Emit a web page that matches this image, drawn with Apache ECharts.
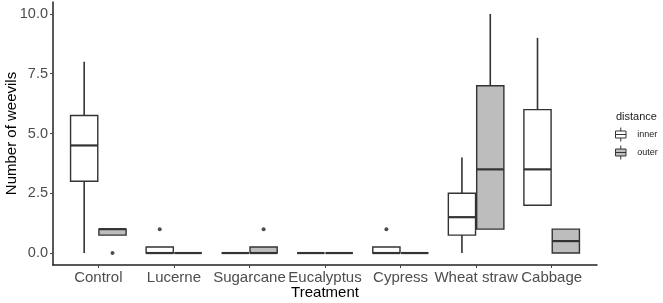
<!DOCTYPE html>
<html>
<head>
<meta charset="utf-8">
<script src="https://cdn.jsdelivr.net/npm/echarts@6/dist/echarts.min.js"></script>
<style>
html, body { margin: 0; padding: 0; background: #fff; }
#chart { width: 663px; height: 303px; }
</style>
</head>
<body>
<div id="chart"></div>
<script>
// treatments on the x axis
var treatments = ['Control', 'Lucerne', 'Sugarcane', 'Eucalyptus', 'Cypress', 'Wheat straw', 'Cabbage'];
var yTicks = [0, 2.5, 5, 7.5, 10];
// [min, Q1, median, Q3, max] per treatment
var innerBoxes = [
    [0, 3, 4.5, 5.75, 8],
    [0, 0, 0, 0.25, 0.25],
    [0, 0, 0, 0, 0],
    [0, 0, 0, 0, 0],
    [0, 0, 0, 0.25, 0.25],
    [0, 0.75, 1.5, 2.5, 4],
    [2, 2, 3.5, 6, 9]
];
var outerBoxes = [
    [0.75, 0.75, 1, 1, 1],
    [0, 0, 0, 0, 0],
    [0, 0, 0, 0.25, 0.25],
    [0, 0, 0, 0, 0],
    [0, 0, 0, 0, 0],
    [1, 1, 3.5, 7, 10],
    [0, 0, 0.5, 1, 1]
];
// outliers: [treatment index, value]
var innerOutliers = [[1, 1], [4, 1]];
var outerOutliers = [[0, 0], [2, 1]];

var dodge = 0.1875;
var boxW = 0.36;

function boxData(boxes, shift) {
    return boxes.map(function (b, i) { return [i + 1 + shift].concat(b); });
}
function outlierData(list, shift) {
    return list.map(function (o) { return [o[0] + 1 + shift, o[1]]; });
}

function renderBox(params, api) {
    var x = api.value(0);
    var pMin = api.coord([x, api.value(1)]);
    var pQ1 = api.coord([x, api.value(2)]);
    var pMed = api.coord([x, api.value(3)]);
    var pQ3 = api.coord([x, api.value(4)]);
    var pMax = api.coord([x, api.value(5)]);
    var half = api.size([boxW, 0])[0] / 2;
    var cx = pMed[0];
    var fill = api.visual('color');
    var line = '#333333';
    return {
        type: 'group',
        children: [
            { type: 'line', shape: { x1: cx, y1: pQ3[1], x2: cx, y2: pMax[1] }, style: { stroke: line, lineWidth: 1.6 } },
            { type: 'line', shape: { x1: cx, y1: pQ1[1], x2: cx, y2: pMin[1] }, style: { stroke: line, lineWidth: 1.6 } },
            { type: 'rect', shape: { x: cx - half, y: pQ3[1], width: half * 2, height: pQ1[1] - pQ3[1] },
              style: { fill: fill, stroke: line, lineWidth: 1.4 } },
            { type: 'line', shape: { x1: cx - half, y1: pMed[1], x2: cx + half, y2: pMed[1] }, style: { stroke: line, lineWidth: 2.2 } }
        ]
    };
}

var boxIcon = 'path://M0,4 H12 V12 H0 Z M0,8 H12 M6,0 V4 M6,12 V16';

var chart = echarts.init(document.getElementById('chart'));
var option = {
    animation: false,
    backgroundColor: '#fff',
    textStyle: { fontFamily: 'Liberation Sans, Arial, sans-serif' },
    title: {
        text: 'distance',
        left: 611,
        top: 106,
        textStyle: { fontSize: 11, fontWeight: 'normal', color: '#222' }
    },
    legend: {
        orient: 'vertical',
        left: 615,
        top: 127,
        padding: 0,
        itemWidth: 13,
        itemHeight: 14,
        itemGap: 3,
        textStyle: { fontSize: 9, color: '#222', padding: [0, 0, 0, 5] },
        data: [
            { name: 'inner', icon: boxIcon, itemStyle: { color: '#ffffff', borderColor: '#333', borderWidth: 1 } },
            { name: 'outer', icon: boxIcon, itemStyle: { color: '#bdbdbd', borderColor: '#333', borderWidth: 1 } }
        ]
    },
    grid: { left: 53, right: 66, top: 2, bottom: 38, outerBoundsMode: 'none', containLabel: false },
    xAxis: {
        type: 'value',
        min: 0.4,
        max: 7.6,
        name: 'Treatment',
        nameLocation: 'middle',
        nameGap: 20,
        nameMoveOverlap: false,
        nameTextStyle: { fontSize: 15, color: '#000' },
        splitLine: { show: false },
        axisLine: { show: true, onZero: false, lineStyle: { color: '#222', width: 1.5 } },
        axisTick: { show: true, length: 3, customValues: [1, 2, 3, 4, 5, 6, 7], lineStyle: { color: '#444' } },
        axisLabel: {
            customValues: [1, 2, 3, 4, 5, 6, 7],
            fontSize: 15,
            color: '#4d4d4d',
            margin: 5,
            formatter: function (v) { return treatments[Math.round(v) - 1]; }
        }
    },
    yAxis: {
        type: 'value',
        min: -0.5,
        max: 10.5,
        name: 'Number of weevils',
        nameLocation: 'middle',
        nameGap: 34,
        nameMoveOverlap: false,
        nameTextStyle: { fontSize: 15, color: '#000' },
        splitLine: { show: false },
        axisLine: { show: true, lineStyle: { color: '#222', width: 1.5 } },
        axisTick: { show: true, length: 3, customValues: yTicks, lineStyle: { color: '#444' } },
        axisLabel: {
            customValues: yTicks,
            fontSize: 14.5,
            color: '#4d4d4d',
            margin: 5,
            formatter: function (v) { return v.toFixed(1); }
        }
    },
    series: [
        {
            name: 'inner',
            type: 'custom',
            renderItem: renderBox,
            itemStyle: { color: '#ffffff' },
            encode: { x: 0, y: [1, 2, 3, 4, 5] },
            data: boxData(innerBoxes, -dodge)
        },
        {
            name: 'outer',
            type: 'custom',
            renderItem: renderBox,
            itemStyle: { color: '#bdbdbd' },
            encode: { x: 0, y: [1, 2, 3, 4, 5] },
            data: boxData(outerBoxes, dodge)
        },
        {
            name: 'inner',
            type: 'scatter',
            symbolSize: 4,
            itemStyle: { color: '#222' },
            data: outlierData(innerOutliers, -dodge)
        },
        {
            name: 'outer',
            type: 'scatter',
            symbolSize: 4,
            itemStyle: { color: '#222' },
            data: outlierData(outerOutliers, dodge)
        }
    ]
};
chart.setOption(option);
window.addEventListener('resize', function () { chart.resize(); });
</script>
</body>
</html>
